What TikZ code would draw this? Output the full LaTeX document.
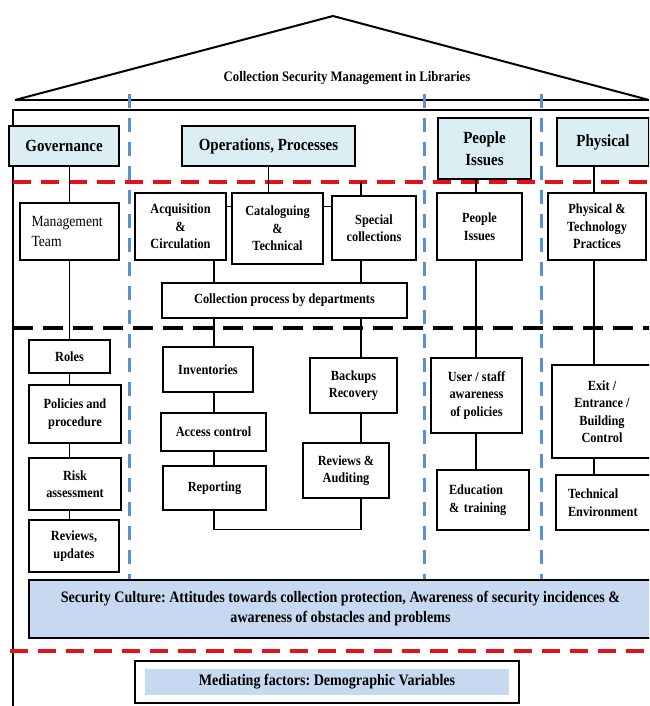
\documentclass[tikz,border=0pt]{standalone}
\usepackage{fontspec}
\setmainfont[FakeStretch=0.88]{Liberation Serif}
\usetikzlibrary{positioning}
\definecolor{headblue}{HTML}{DAEEF3}
\definecolor{cultblue}{HTML}{C6D9F1}
\definecolor{sepblue}{HTML}{5B8FD6}
\definecolor{sepred}{HTML}{E2111B}
\newcommand\cellfont{\fontsize{14}{17.5}\selectfont\bfseries}
\newcommand\headfont{\fontsize{17}{21.5}\selectfont\bfseries}
\frenchspacing

\begin{document}
\begin{tikzpicture}[x=1pt,y=-1pt,
    head/.style={draw,line width=1.4pt,fill=headblue,font=\headfont,align=center,inner sep=2pt},
    cell/.style={draw,line width=1.4pt,fill=white,font=\cellfont,align=center,inner sep=2pt},
    link/.style={line width=1.2pt},
    reddash/.style={sepred,line width=3.5pt,dash pattern=on 18pt off 10pt},
    blackdash/.style={black,line width=3.5pt,dash pattern=on 20pt off 10pt},
    bluedash/.style={sepblue,line width=3pt,dash pattern=on 14pt off 10pt}]
  \useasboundingbox (0,0) rectangle (649,706);
  \clip (0,0) rectangle (649,706);
  % roof and walls
  \draw[line width=2pt,line join=miter] (15,100) -- (333,16) -- (649,100);
  \draw[line width=2pt] (15,100) -- (649,100);
  \draw[line width=2pt] (13,706) -- (13,110) -- (649,110);
  \node[font=\fontsize{14.5}{17}\selectfont\bfseries] (title) at (347,78) {Collection Security Management in Libraries};
  % separators
  \coordinate (redtop) at (13,182);
  \draw[reddash] (redtop) -- (652,182);
  \draw[blackdash] (13,328) -- (652,328);
  \draw[reddash] (10,651) -- (652,651);
  \foreach \x in {129,424,541}{\draw[bluedash] (\x,94) -- (\x,580);}
  % pillar heads
  \node[head,minimum width=110pt,minimum height=40pt] (gov) at (64,146) {Governance};
  \node[head,minimum width=173pt,minimum height=40pt] (ops) at (268.5,146) {Operations, Processes};
  \node[head,minimum width=93pt,minimum height=61pt] (ppl) at (484.5,148.5) {People\\Issues};
  \node[head,minimum width=92pt,minimum height=48pt] (phys) at (603,142) {Physical};
  % governance
  \node[cell,font=\fontsize{15.5}{20}\selectfont,align=left,text width=76pt,minimum width=99pt,minimum height=57pt] (mgmt) at (69.5,231.5) {Management\\Team};
  \node[cell,minimum width=81pt,minimum height=33pt] (roles) at (69.5,356.5) {Roles};
  \node[cell,minimum width=92pt,minimum height=58pt] (pol) at (75,414) {Policies and\\procedure};
  \node[cell,minimum width=92pt,minimum height=52pt] (risk) at (75,484) {Risk\\assessment};
  \node[cell,minimum width=90pt,minimum height=52pt] (revu) at (74,546) {Reviews,\\updates};
  % operations
  \node[cell,minimum width=91pt,minimum height=67pt] (acq) at (180.5,226.5) {Acquisition\\\&\\Circulation};
  \node[cell,minimum width=91pt,minimum height=71pt] (cat) at (277.5,228.5) {Cataloguing\\\&\\Technical};
  \node[cell,minimum width=84pt,minimum height=64pt] (spec) at (374,228) {Special\\collections};
  \node[cell,minimum width=245pt,minimum height=35pt] (proc) at (284.5,300.5) {Collection process by departments};
  \node[cell,minimum width=90pt,minimum height=45pt] (inv) at (208,369.5) {Inventories};
  \node[cell,minimum width=105pt,minimum height=38pt] (acc) at (213.5,432) {Access control};
  \node[cell,minimum width=103pt,minimum height=44pt] (rep) at (214.5,488) {Reporting};
  \node[cell,minimum width=87pt,minimum height=55pt] (bak) at (353.5,385.5) {Backups\\Recovery};
  \node[cell,minimum width=86pt,minimum height=55pt] (raud) at (346,470.5) {Reviews \&\\Auditing};
  % people
  \node[cell,minimum width=85pt,minimum height=67pt] (pbox) at (479.5,226.5) {People\\Issues};
  \node[cell,minimum width=91pt,minimum height=75pt] (usr) at (476.5,395.5) {User / staff\\awareness\\of policies};
  \node[cell,align=left,text width=68pt,minimum width=92pt,minimum height=60pt] (edu) at (483,500) {Education\\\& training};
  % physical
  \node[cell,minimum width=98pt,minimum height=67pt] (ptech) at (597,226.5) {Physical \&\\Technology\\Practices};
  \node[cell,minimum width=100pt,minimum height=93pt] (exit) at (602,411.5) {Exit /\\Entrance /\\Building\\Control};
  \node[cell,align=left,text width=72pt,minimum width=96pt,minimum height=55pt] (tech) at (604,502.5) {Technical\\Environment};
  % foundation
  \node[draw,line width=1.4pt,fill=cultblue,font=\fontsize{16}{20}\selectfont\bfseries,align=center,minimum width=623pt,minimum height=58pt] (culture) at (340.5,609) {Security Culture: Attitudes towards collection protection, Awareness of security incidences \&\\awareness of obstacles and problems};
  \node[draw,line width=1.4pt,fill=white,minimum width=384pt,minimum height=42pt] (medbox) at (327,682) {};
  \node[fill=cultblue,font=\fontsize{16}{19}\selectfont\bfseries,minimum width=364pt,minimum height=26pt] (med) at (medbox) {Mediating factors: Demographic Variables};
  % connectors
  \draw[link] (gov.south -| mgmt) -- (mgmt.north);
  \foreach \a/\b in {mgmt/roles,roles/pol,pol/risk,risk/revu}{\draw[link] (\a.south -| mgmt) -- (\b.north -| mgmt);}
  \coordinate (opsL) at (214,0);
  \coordinate (opsR) at (361,0);
  \draw[link] (ops.south) -- (cat.north -| ops.south);
  \draw[link] ([yshift=-14pt]acq.north east) -- ([yshift=-14pt]acq.north east -| cat.west);
  \draw[link] ([yshift=-11pt]spec.north west) -- ([yshift=-11pt]spec.north west -| cat.east);
  \draw[link] (spec.north -| opsR) -- (opsR |- redtop);
  \draw[link] (acq.south -| opsL) -- (proc.north -| opsL);
  \draw[link] (spec.south -| opsR) -- (proc.north -| opsR);
  \draw[link] (proc.south -| opsL) -- (inv.north -| opsL);
  \draw[link] (proc.south -| opsR) -- (bak.north -| opsR);
  \draw[link] (inv.south -| opsL) -- (acc.north -| opsL);
  \draw[link] (acc.south -| opsL) -- (rep.north -| opsL);
  \draw[link] (bak.south -| opsR) -- (raud.north -| opsR);
  \draw[link] (rep.south -| opsL) -- ++(0,19) -| (raud.south -| opsR);
  \coordinate (pplX) at (476,0);
  \draw[link] (ppl.south -| pplX) -- (pbox.north -| pplX);
  \draw[link] (pbox.south -| pplX) -- (usr.north -| pplX);
  \draw[link] (usr.south -| pplX) -- (edu.north -| pplX);
  \coordinate (physX) at (594,0);
  \draw[link] (phys.south -| physX) -- (ptech.north -| physX);
  \draw[link] (ptech.south -| physX) -- (exit.north -| physX);
  \draw[link] (exit.south -| physX) -- (tech.north -| physX);
\end{tikzpicture}
\end{document}
